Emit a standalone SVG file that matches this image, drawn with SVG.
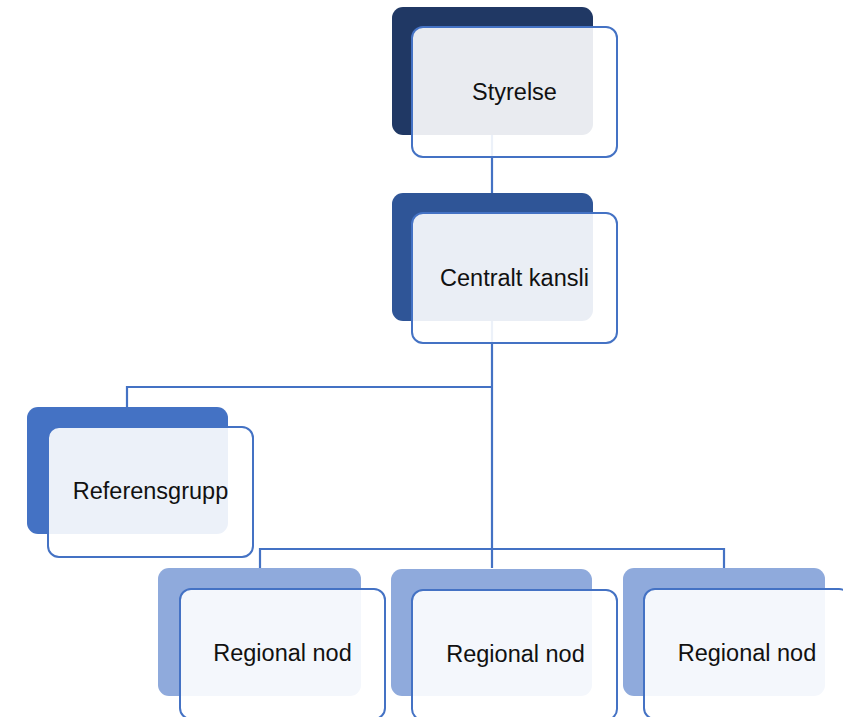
<svg xmlns="http://www.w3.org/2000/svg" width="843" height="717" viewBox="0 0 843 717">
<style>
.back{stroke:none}
.front{fill:#ffffff;fill-opacity:0.9;stroke:#4472C4;stroke-width:2}
.conn{fill:none;stroke:#4472C4;stroke-width:2.2}
.lbl{font-family:"Liberation Sans",Arial,sans-serif;font-size:23.5px;fill:#111111;text-anchor:middle}
</style>
<rect width="843" height="717" fill="#ffffff"/>
<g id="connectors">
<path class="conn" d="M492 135V193"/>
<path class="conn" d="M492 321V568"/>
<path class="conn" d="M127 407V387H492"/>
<path class="conn" d="M260 568V549H724V568"/>
</g>
<g id="styrelse">
<rect class="back" x="392" y="7" width="201" height="128" rx="11" fill="#203864"/>
<rect class="front" x="412" y="27" width="205" height="130" rx="11"/>
<text class="lbl" x="514.5" y="100">Styrelse</text>
</g>
<g id="centralt-kansli">
<rect class="back" x="392" y="193" width="201" height="128" rx="11" fill="#2F5597"/>
<rect class="front" x="412" y="213" width="205" height="130" rx="11"/>
<text class="lbl" x="514.5" y="286">Centralt kansli</text>
</g>
<g id="referensgrupp">
<rect class="back" x="27" y="407" width="201" height="127" rx="11" fill="#4472C4"/>
<rect class="front" x="48" y="427" width="205" height="130" rx="11"/>
<text class="lbl" x="150.5" y="499">Referensgrupp</text>
</g>
<g id="regional-nod-1">
<rect class="back" x="158" y="568" width="203" height="128" rx="11" fill="#8FAADC"/>
<rect class="front" x="180" y="589" width="205" height="130" rx="11"/>
<text class="lbl" x="282.5" y="661">Regional nod</text>
</g>
<g id="regional-nod-2">
<rect class="back" x="391" y="569" width="201" height="127" rx="11" fill="#8FAADC"/>
<rect class="front" x="412" y="590" width="205" height="130" rx="11"/>
<text class="lbl" x="515.5" y="662">Regional nod</text>
</g>
<g id="regional-nod-3">
<rect class="back" x="623" y="568" width="202" height="128" rx="11" fill="#8FAADC"/>
<rect class="front" x="644" y="589" width="206" height="130" rx="11"/>
<text class="lbl" x="747" y="661">Regional nod</text>
</g>
</svg>
